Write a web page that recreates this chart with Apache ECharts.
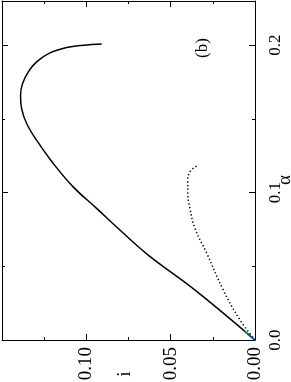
<!DOCTYPE html>
<html><head><meta charset="utf-8">
<script src="https://cdn.jsdelivr.net/npm/echarts@6/dist/echarts.min.js"></script>
<style>html,body{margin:0;padding:0;background:#fff}#c{width:291px;height:382px}</style>
</head><body><div id="c"></div>
<script>
// data: [i, alpha]
const solidCurve = [[0,0],[0.0346,0.033],[0.0633,0.0576],[0.0801,0.0746],[0.0939,0.0893],[0.1078,0.1039],[0.1196,0.1198],[0.1295,0.1356],[0.1354,0.1469],[0.1384,0.1571],[0.1390,0.1661],[0.1378,0.1740],[0.1344,0.1819],[0.1295,0.1887],[0.1216,0.1948],[0.1117,0.1984],[0.1018,0.2000],[0.0909,0.2009]];
const dottedCurve = [[0,0],[0.0089,0.0136],[0.0188,0.0339],[0.0286,0.0588],[0.0356,0.0757],[0.0386,0.0893],[0.0399,0.1005],[0.0399,0.1073],[0.0386,0.1141],[0.0346,0.1180]];
const greenSeg = [[0,0],[0.0063,0.0058]];
const blueSeg = [[0,0],[0.0045,0.0042]];
const iTicks = [0, 0.05, 0.10];
const alphaTicks = [0, 0.1, 0.2];
const panelLabel = '(b)';
const xName = 'i', yName = 'α';

const font = 'Liberation Serif';
function axisBase() {
  return {
    type: 'value',
    axisLine: {show: true, onZero: false, lineStyle: {color: '#000', width: 1}},
    axisTick: {show: true, inside: true, length: 6, lineStyle: {color: '#000'}},
    minorTick: {show: true, splitNumber: 2, length: 3, lineStyle: {color: '#000'}},
    splitLine: {show: false}
  };
}
const chart = echarts.init(document.getElementById('c'));
chart.setOption({
  animation: false,
  grid: {left: 2, right: 36, top: 1, bottom: 42, containLabel: false, outerBoundsMode: 'none'},
  xAxis: [
    Object.assign(axisBase(), {position: 'bottom', min: 0, max: 0.15, interval: 0.05, inverse: true,
      axisLabel: {show: true, rotate: 90, margin: 7, fontFamily: font, fontSize: 19, color: '#000',
        formatter: v => iTicks.some(t => Math.abs(t - v) < 1e-9) ? v.toFixed(2) : ''}}),
    Object.assign(axisBase(), {position: 'top', min: 0, max: 0.15, interval: 0.05, inverse: true,
      axisLabel: {show: false}})
  ],
  yAxis: [
    Object.assign(axisBase(), {position: 'right', min: 0, max: 0.23, interval: 0.1,
      axisLabel: {show: true, rotate: 90, margin: 12, fontFamily: font, fontSize: 17, color: '#000',
        formatter: v => alphaTicks.some(t => Math.abs(t - v) < 1e-9) ? v.toFixed(1) : ''}}),
    Object.assign(axisBase(), {position: 'left', min: 0, max: 0.23, interval: 0.1,
      axisLabel: {show: false}})
  ],
  graphic: [
    {type: 'text', x: 203, y: 48, rotation: Math.PI/2, style: {text: panelLabel, font: '17px "' + font + '"', fill: '#000', align: 'center', verticalAlign: 'middle'}},
    {type: 'text', x: 285, y: 180, rotation: Math.PI/2, style: {text: yName, font: '19px "' + font + '"', fill: '#000', align: 'center', verticalAlign: 'middle'}},
    {type: 'text', x: 125, y: 374, rotation: Math.PI/2, style: {text: xName, font: '19px "' + font + '"', fill: '#000', align: 'center', verticalAlign: 'middle'}}
  ],
  series: [
    {type: 'line', data: solidCurve, smooth: 0.4, showSymbol: false, lineStyle: {color: '#000', width: 1.5}},
    {type: 'line', data: dottedCurve, smooth: 0.4, showSymbol: false, lineStyle: {color: '#000', width: 1.5, type: [1.3, 2.4]}},
    {type: 'line', data: greenSeg, showSymbol: false, lineStyle: {color: '#1a9a1a', width: 1.5}},
    {type: 'line', data: blueSeg, showSymbol: false, lineStyle: {color: '#1f3fd0', width: 1.5}}
  ]
});
</script></body></html>
